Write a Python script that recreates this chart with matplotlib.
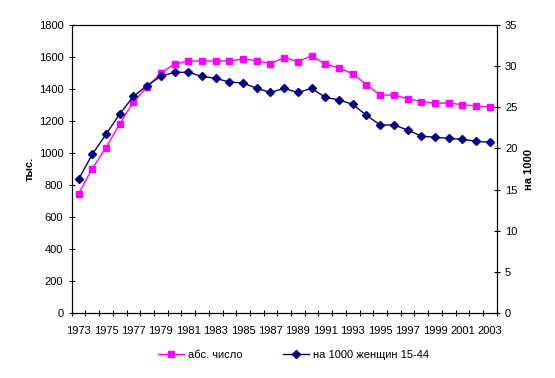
import numpy as np
import matplotlib.pyplot as plt

plt.rcParams['font.family'] = ['Liberation Sans', 'DejaVu Sans']

years = list(range(1973, 2004))
abs_num = [746, 902, 1033, 1181, 1319, 1412, 1500, 1556, 1575, 1575,
           1575, 1575, 1587, 1577, 1558, 1596, 1571, 1608, 1556, 1531,
           1496, 1427, 1362, 1362, 1340, 1321, 1312, 1312, 1302, 1294, 1287]
per_1000 = [16.25, 19.28, 21.71, 24.18, 26.33, 27.63, 28.76, 29.25, 29.25, 28.76,
            28.52, 28.07, 27.95, 27.3, 26.8, 27.3, 26.8, 27.3, 26.2, 25.9,
            25.36, 24.02, 22.85, 22.85, 22.24, 21.5, 21.35, 21.23, 21.1, 20.87, 20.74]

fig = plt.figure(figsize=(5.55, 3.78), dpi=100)
ax = fig.add_axes([71.7/555, 1 - 313/378, (496.7-71.7)/555, (313-25)/378])
ax2 = ax.twinx()

x = np.arange(len(years))
ax.plot(x, abs_num, color='#FF00FF', lw=1, marker='s', ms=4.5, label='абс. число')
ax2.plot(x, per_1000, color='#000080', lw=1, marker='D', ms=4, label='на 1000 женщин 15-44')

ax.set_xlim(-0.5, len(years) - 0.5)
ax.set_ylim(0, 1800)
ax.set_yticks(range(0, 1801, 200))
ax2.set_ylim(0, 35)
ax2.set_yticks(range(0, 36, 5))

ax.set_xticks(np.arange(-0.5, len(years), 1))
ax.set_xticklabels([])
ax.set_xticks(x[::2], minor=True)
ax.set_xticklabels([str(y) for y in years[::2]], minor=True)
ax.tick_params(axis='x', which='major', length=5, direction='inout', width=0.8)
ax.tick_params(axis='x', which='minor', length=0, labelsize=8, pad=9)
ax.tick_params(axis='y', length=5, direction='inout', labelsize=8, width=0.8)
ax2.tick_params(axis='y', length=5, direction='inout', labelsize=8, width=0.8)

ax.set_ylabel('тыс.', fontsize=8, fontweight='bold')
ax.yaxis.set_label_coords(-(71.7 - 35) / 425, 0.5)
ax2.set_ylabel('на 1000', fontsize=8, fontweight='bold')
ax2.yaxis.set_label_coords(1 + (524 - 496.7) / 425, 0.5)

for a in (ax, ax2):
    for s in a.spines.values():
        s.set_linewidth(0.8)

h1, l1 = ax.get_legend_handles_labels()
h2, l2 = ax2.get_legend_handles_labels()
fig.legend(h1 + h2, l1 + l2, loc='center', bbox_to_anchor=(293.7/555, 1 - 355/378),
           ncol=2, frameon=False, fontsize=8, columnspacing=3.6, handlelength=2.3,
           handletextpad=0.4, borderpad=0, borderaxespad=0)

fig.savefig('out.png', dpi=100)
